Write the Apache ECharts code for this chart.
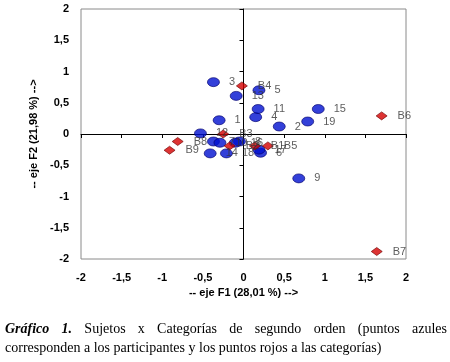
<!DOCTYPE html>
<html>
<head>
<meta charset="utf-8">
<script src="https://cdn.jsdelivr.net/npm/echarts@6/dist/echarts.min.js"></script>
<style>
    html, body { margin: 0; padding: 0; background: #fff; }
    #chart { position: absolute; left: 0; top: 0; width: 450px; height: 362px; }
    .caption {
        position: absolute;
        left: 5px;
        width: 442px;
        font-family: "Liberation Serif", "Times New Roman", serif;
        font-size: 14px;
        color: #000;
        white-space: nowrap;
    }
    .l1 { top: 321px; text-align: justify; text-align-last: justify; }
    .l2 { top: 340px; }
</style>
</head>
<body>
<div id="chart"></div>
<div class="caption l1"><b><i>Gráfico 1.</i></b> Sujetos x Categorías de segundo orden (puntos azules</div>
<div class="caption l2">corresponden a los participantes y los puntos rojos a las categorías)</div>
<script>
// participantes (puntos azules)
var sujetos = ['1', '2', '3', '4', '5', '6', '7', '8', '9', '10', '11', '12', '13', '14', '15', '16', '17', '18', '19'];
var sujetosF1 = [-0.30, 0.44, -0.37, 0.15, 0.19, 0.21, -0.37, -0.05, 0.68, -0.29, 0.18, -0.53, -0.09, -0.41, 0.92, -0.10, 0.19, -0.21, 0.79];
var sujetosF2 = [0.22, 0.12, 0.83, 0.27, 0.70, -0.30, -0.12, -0.12, -0.71, -0.14, 0.40, 0.01, 0.61, -0.31, 0.40, -0.14, -0.25, -0.31, 0.20];

// categorias (puntos rojos)
var categorias = ['B1', 'B2', 'B3', 'B4', 'B5', 'B6', 'B7', 'B8', 'B9'];
var categoriasF1 = [0.14, -0.17, -0.25, -0.02, 0.30, 1.70, 1.64, -0.81, -0.91];
var categoriasF2 = [-0.19, -0.19, 0.00, 0.77, -0.19, 0.29, -1.88, -0.12, -0.26];

var ejeMin = -2;
var ejeMax = 2;
var ejePaso = 0.5;

function coma (v) {
    return String(v).replace('.', ',');
}

function puntos (nombres, xs, ys) {
    return nombres.map(function (n, i) {
        return { name: n, value: [xs[i], ys[i]] };
    });
}

var myChart = echarts.init(document.getElementById('chart'));

var labelFont = {
    fontFamily: 'Liberation Sans, Arial, sans-serif',
    fontSize: 11,
    fontWeight: 'bold',
    color: '#000'
};

var option = {
    animation: false,
    grid: {
        left: 81,
        right: 44,
        top: 9,
        bottom: 103,
        show: true,
        borderColor: '#8a8a8a',
        borderWidth: 1
    },
    xAxis: [{
        type: 'value',
        min: ejeMin,
        max: ejeMax,
        interval: ejePaso,
        position: 'bottom',
        axisLine: { show: false, onZero: false },
        axisTick: { show: false },
        splitLine: { show: false },
        axisLabel: Object.assign({ margin: 13, formatter: coma }, labelFont),
        name: '-- eje F1 (28,01 %) -->',
        nameLocation: 'middle',
        nameGap: 27,
        nameTextStyle: labelFont
    }, {
        type: 'value',
        min: ejeMin,
        max: ejeMax,
        interval: ejePaso,
        position: 'top',
        axisLine: { show: true, onZero: true, onZeroAxisIndex: 0, lineStyle: { color: '#000', width: 1 } },
        axisTick: { show: true, inside: true, length: 4, lineStyle: { color: '#000' } },
        axisLabel: { show: false },
        splitLine: { show: false }
    }],
    yAxis: [{
        type: 'value',
        min: ejeMin,
        max: ejeMax,
        interval: ejePaso,
        position: 'left',
        axisLine: { show: false, onZero: false },
        axisTick: { show: false },
        splitLine: { show: false },
        axisLabel: Object.assign({ margin: 12, formatter: coma }, labelFont),
        name: '-- eje F2 (21,98 %) -->',
        nameLocation: 'middle',
        nameRotate: 90,
        nameGap: 33,
        nameTextStyle: labelFont
    }, {
        type: 'value',
        min: ejeMin,
        max: ejeMax,
        interval: ejePaso,
        position: 'left',
        axisLine: { show: true, onZero: true, onZeroAxisIndex: 0, lineStyle: { color: '#000', width: 1 } },
        axisTick: { show: true, length: 4, lineStyle: { color: '#000' } },
        axisLabel: { show: false },
        splitLine: { show: false }
    }],
    series: [{
        name: 'participantes',
        type: 'scatter',
        symbol: 'circle',
        symbolSize: [12, 9],
        itemStyle: { color: '#0010d0', borderColor: '#00006a', borderWidth: 0.8 },
        label: {
            show: true,
            position: 'right',
            distance: 9,
            formatter: '{b}',
            fontFamily: 'Liberation Sans, Arial, sans-serif',
            fontSize: 11,
            color: '#333'
        },
        data: puntos(sujetos, sujetosF1, sujetosF2)
    }, {
        name: 'categorias',
        type: 'scatter',
        symbol: 'diamond',
        symbolSize: [11, 8],
        itemStyle: { color: '#d40000', borderColor: '#700000', borderWidth: 0.8 },
        label: {
            show: true,
            position: 'right',
            distance: 10,
            formatter: '{b}',
            fontFamily: 'Liberation Sans, Arial, sans-serif',
            fontSize: 11,
            color: '#333'
        },
        data: puntos(categorias, categoriasF1, categoriasF2)
    }]
};

myChart.setOption(option);
window.addEventListener('resize', function () {
    myChart.resize();
});
</script>
</body>
</html>
